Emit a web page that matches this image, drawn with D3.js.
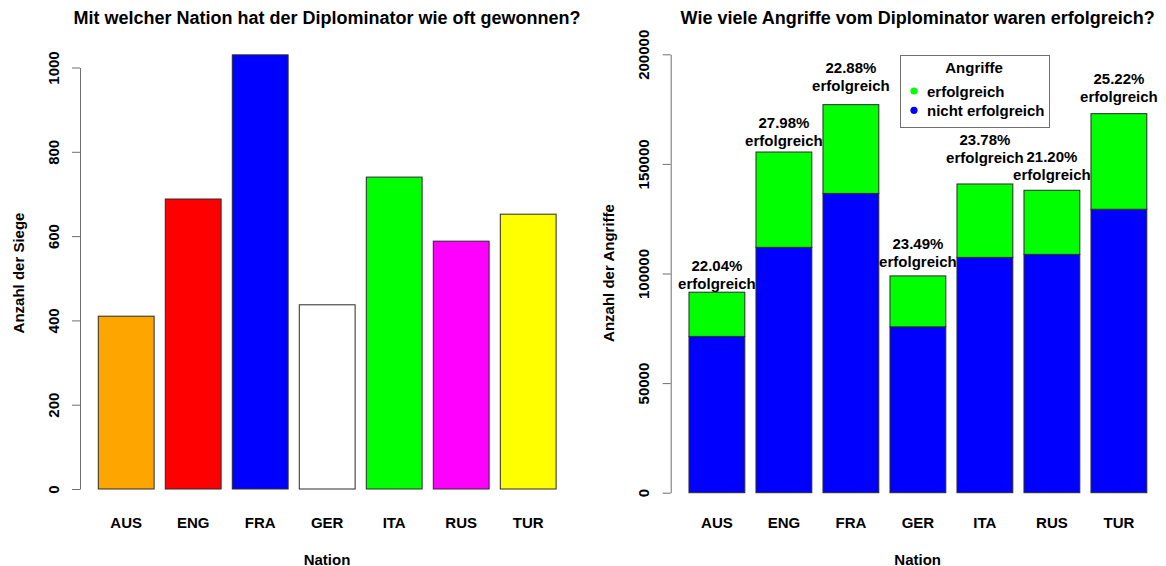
<!DOCTYPE html>
<html>
<head>
<meta charset="utf-8">
<script src="https://cdn.jsdelivr.net/npm/d3@7"></script>
<style>
  html, body { margin: 0; padding: 0; background: #fff; }
  svg { display: block; font-family: "Liberation Sans", Arial, sans-serif; font-weight: bold; }
</style>
</head>
<body>
<svg id="chart" width="1166" height="566"></svg>
<script>
// Nations and results
const nations = ["AUS", "ENG", "FRA", "GER", "ITA", "RUS", "TUR"];
const wins = [410, 688, 1030, 437, 740, 588, 652];
const winColors = ["#FFA500", "#FF0000", "#0000FF", "#FFFFFF", "#00FF00", "#FF00FF", "#FFFF00"];
const winTicks = [0, 200, 400, 600, 800, 1000];

// Attacks per nation: successful and unsuccessful
const attacksWon = [20160, 43487, 40505, 23232, 33492, 29250, 43610];
const attacksLost = [71310, 111933, 136525, 75668, 107348, 108720, 129310];
const attackTicks = [0, 50000, 100000, 150000, 200000];
// Height (in attacks) at which each percentage annotation sits
const labelAt = [95530, 160450, 185680, 105700, 153010, 145260, 180660];

const legendKeys = ["erfolgreich", "nicht erfolgreich"];
const legendColors = ["#00FF00", "#0000FF"];

const svg = d3.select("#chart");
const outline = "#2a2a2a";
const axisGrey = "#6f6f6f";

function panel(offsetX, yDomainMax, yRange, ticks, title, yTitle) {
  const g = svg.append("g").attr("transform", `translate(${offsetX},0)`);
  const x = d3.scaleBand()
    .domain(nations)
    .range([92.7, 561.7])
    .paddingInner(1 / 6)
    .paddingOuter(1 / 12);
  const y = d3.scaleLinear().domain([0, yDomainMax]).range(yRange);

  // title
  g.append("text")
    .attr("x", 327).attr("y", 18)
    .attr("text-anchor", "middle").attr("dominant-baseline", "central")
    .style("font-size", "18px")
    .text(title);

  // y axis
  const yAxis = g.append("g")
    .attr("transform", "translate(80,0)")
    .call(d3.axisLeft(y).tickValues(ticks).tickSize(8).tickSizeOuter(0).tickFormat(d3.format("d")));
  yAxis.select(".domain").attr("stroke", axisGrey);
  yAxis.selectAll(".tick line").attr("stroke", axisGrey);
  yAxis.selectAll(".tick text")
    .attr("transform", "rotate(-90)")
    .attr("x", 0).attr("y", -27).attr("dy", null)
    .attr("text-anchor", "middle").attr("dominant-baseline", "central")
    .attr("fill", "#000")
    .style("font-size", "15px").style("font-family", "Liberation Sans, Arial, sans-serif").style("font-weight", "bold");

  // y title
  g.append("text")
    .attr("transform", "translate(18,273) rotate(-90)")
    .attr("text-anchor", "middle").attr("dominant-baseline", "central")
    .style("font-size", "15px")
    .text(yTitle);

  // category labels
  g.selectAll("text.cat").data(nations).join("text")
    .attr("class", "cat")
    .attr("x", d => x(d) + x.bandwidth() / 2).attr("y", 522.5)
    .attr("text-anchor", "middle").attr("dominant-baseline", "central")
    .style("font-size", "15px")
    .text(d => d);

  g.append("text")
    .attr("x", 327).attr("y", 559)
    .attr("text-anchor", "middle").attr("dominant-baseline", "central")
    .style("font-size", "15px")
    .text("Nation");

  return { g, x, y };
}

// Left: wins per nation
{
  const { g, x, y } = panel(0, 1000, [489, 67.5], winTicks,
    "Mit welcher Nation hat der Diplominator wie oft gewonnen?", "Anzahl der Siege");
  g.selectAll("rect.win").data(nations).join("rect")
    .attr("class", "win")
    .attr("x", d => x(d))
    .attr("width", x.bandwidth())
    .attr("y", (d, i) => y(wins[i]))
    .attr("height", (d, i) => y(0) - y(wins[i]))
    .attr("fill", (d, i) => winColors[i])
    .attr("stroke", outline).attr("stroke-width", 1);
}

// Right: stacked attacks per nation
{
  const { g, x, y } = panel(590.7, 200000, [492.7, 54.3], attackTicks,
    "Wie viele Angriffe vom Diplominator waren erfolgreich?", "Anzahl der Angriffe");

  const rows = nations.map((n, i) => ({ nation: n, lost: attacksLost[i], won: attacksWon[i] }));
  const stacked = d3.stack().keys(["lost", "won"])(rows);
  const stackColors = { lost: "#0000FF", won: "#00FF00" };

  g.selectAll("g.layer").data(stacked).join("g")
    .attr("class", "layer")
    .attr("fill", s => stackColors[s.key])
    .selectAll("rect").data(s => s).join("rect")
    .attr("x", d => x(d.data.nation))
    .attr("width", x.bandwidth())
    .attr("y", d => y(d[1]))
    .attr("height", d => y(d[0]) - y(d[1]))
    .attr("stroke", outline).attr("stroke-width", 1);

  // percentage annotations
  rows.forEach((r, i) => {
    const pct = (100 * r.won / (r.won + r.lost)).toFixed(2) + "%";
    const cx = x(r.nation) + x.bandwidth() / 2;
    const cy = y(labelAt[i]);
    g.append("text")
      .attr("x", cx).attr("y", cy - 18)
      .attr("text-anchor", "middle").attr("dominant-baseline", "central")
      .style("font-size", "15px")
      .text(pct);
    g.append("text")
      .attr("x", cx).attr("y", cy)
      .attr("text-anchor", "middle").attr("dominant-baseline", "central")
      .style("font-size", "15px")
      .text("erfolgreich");
  });

  // legend
  const lg = svg.append("g").attr("transform", "translate(900,55)");
  lg.append("rect")
    .attr("x", 0.5).attr("y", 0.5).attr("width", 149).attr("height", 72)
    .attr("fill", "#fff").attr("stroke", axisGrey);
  lg.append("text")
    .attr("x", 74).attr("y", 12.3)
    .attr("text-anchor", "middle").attr("dominant-baseline", "central")
    .style("font-size", "15px")
    .text("Angriffe");
  legendKeys.forEach((k, i) => {
    const yy = 36 + i * 19.3;
    lg.append("circle").attr("cx", 14).attr("cy", yy).attr("r", 3.6).attr("fill", legendColors[i]);
    lg.append("text")
      .attr("x", 27).attr("y", yy)
      .attr("dominant-baseline", "central")
      .style("font-size", "15px")
      .text(k);
  });
}
</script>
</body>
</html>
